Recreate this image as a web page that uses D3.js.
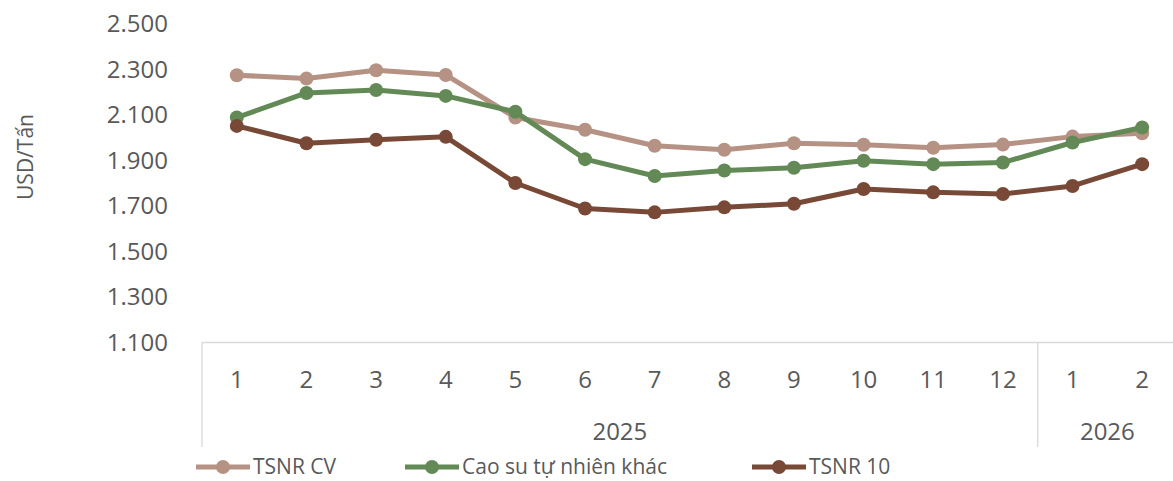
<!DOCTYPE html>
<html><head><meta charset="utf-8">
<script src="https://cdn.jsdelivr.net/npm/d3@7"></script>
<style>
html,body{margin:0;padding:0;background:#fff;}
svg{display:block;font-family:"Open Sans",sans-serif;}
</style></head>
<body>
<svg id="chart" width="1173" height="481"></svg>
<script>
const months = ["1","2","3","4","5","6","7","8","9","10","11","12","1","2"];
const years = [{label:"2025", count:12},{label:"2026", count:2}];
const yTicks = [1100,1300,1500,1700,1900,2100,2300,2500];
const seriesNames = ["TSNR CV","Cao su tự nhiên khác","TSNR 10"];
const tsnrCV   = [2275,2260,2297,2276,2089,2035,1965,1947,1976,1969,1956,1970,2005,2020];
const caoSuKhac= [2089,2197,2210,2184,2114,1906,1832,1856,1868,1899,1884,1891,1979,2045];
const tsnr10   = [2052,1976,1991,2004,1801,1689,1672,1694,1710,1775,1760,1753,1788,1884];
const colors = ["#b59283","#638a56","#784936"];

const svg = d3.select("#chart");
const pLeft = 202, pRight = 1177, pTop = 24, pBottom = 342.5;
const x = d3.scaleBand().domain(d3.range(months.length)).range([pLeft, pRight]);
const y = d3.scaleLinear().domain([1100, 2500]).range([pBottom, pTop]);

// y tick labels
svg.append("g").selectAll("text").data(yTicks).join("text")
  .attr("x", 168).attr("y", d => y(d)).attr("dy", "0.35em")
  .attr("text-anchor", "end").attr("fill", "#595959")
  .style("font-size", "24px").text(d => d3.format(",")(d).replace(",", "."));

// y title
svg.append("text").attr("transform", "translate(33,157) rotate(-90)")
  .attr("text-anchor", "middle").attr("fill", "#595959")
  .style("font-size", "21px").text("USD/Tấn");

// x axis
const ax = svg.append("g").attr("stroke", "#d9d9d9").attr("stroke-width", 1.3);
ax.append("line").attr("x1", pLeft).attr("x2", pRight).attr("y1", pBottom).attr("y2", pBottom);
let acc = 0;
const bounds = [0];
years.forEach(g => { acc += g.count; bounds.push(acc); });
bounds.forEach(b => {
  const bx = b < months.length ? x(b) : pRight;
  ax.append("line").attr("x1", bx).attr("x2", bx).attr("y1", pBottom).attr("y2", 447);
});
svg.append("g").selectAll("text").data(months).join("text")
  .attr("x", (d, i) => x(i) + x.bandwidth() / 2).attr("y", 380).attr("dy", "0.35em")
  .attr("text-anchor", "middle").attr("fill", "#595959").style("font-size", "24px").text(d => d);
acc = 0;
years.forEach(g => {
  const x0 = x(acc);
  const x1 = acc + g.count < months.length ? x(acc + g.count) : pRight;
  svg.append("text").attr("x", (x0 + x1) / 2).attr("y", 432).attr("dy", "0.35em")
    .attr("text-anchor", "middle").attr("fill", "#595959").style("font-size", "24px").text(g.label);
  acc += g.count;
});

// series
const data = [tsnrCV, caoSuKhac, tsnr10];
const line = d3.line().x((d, i) => x(i) + x.bandwidth() / 2).y(d => y(d));
data.forEach((vals, s) => {
  const g = svg.append("g");
  g.append("path").datum(vals).attr("d", line).attr("fill", "none")
    .attr("stroke", colors[s]).attr("stroke-width", 5).attr("stroke-linejoin", "round");
  g.selectAll("circle").data(vals).join("circle")
    .attr("cx", (d, i) => x(i) + x.bandwidth() / 2).attr("cy", d => y(d))
    .attr("r", 7).attr("fill", colors[s]);
});

// legend
const legX = [196, 405, 752];
const legY = 467;
seriesNames.forEach((n, s) => {
  const g = svg.append("g");
  g.append("line").attr("x1", legX[s]).attr("x2", legX[s] + 54).attr("y1", legY).attr("y2", legY)
    .attr("stroke", colors[s]).attr("stroke-width", 5);
  g.append("circle").attr("cx", legX[s] + 27).attr("cy", legY).attr("r", 7).attr("fill", colors[s]);
  g.append("text").attr("x", legX[s] + 57).attr("y", legY).attr("dy", "0.33em")
    .attr("fill", "#595959").style("font-size", "21px").text(n);
});
</script>
</body></html>
